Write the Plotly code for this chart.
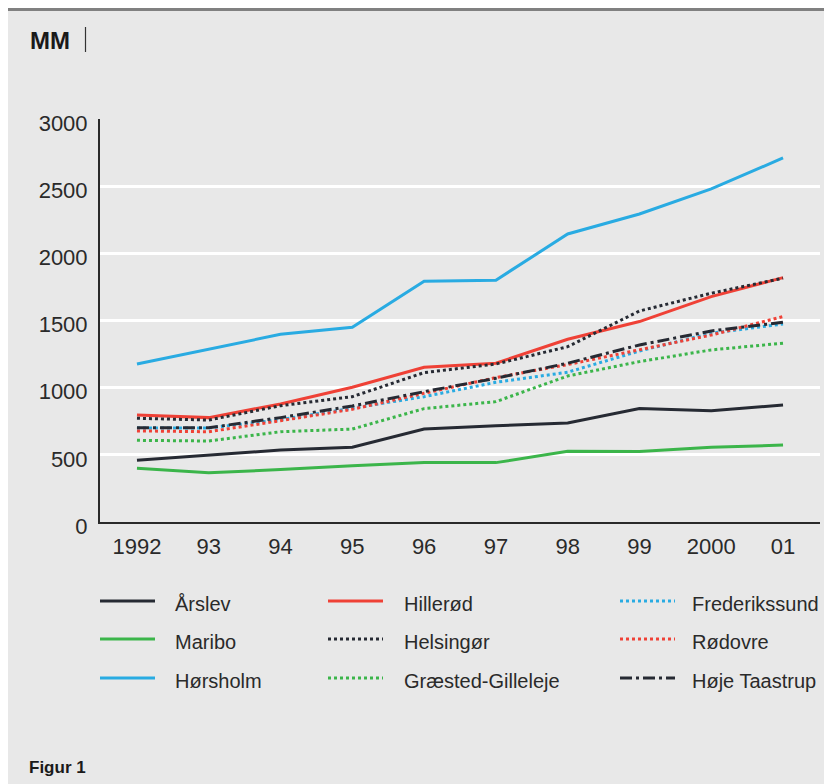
import plotly.graph_objects as go

years = [1992, 1993, 1994, 1995, 1996, 1997, 1998, 1999, 2000, 2001]
tick_labels = ["1992", "93", "94", "95", "96", "97", "98", "99", "2000", "01"]

names = ["Årslev", "Maribo", "Hørsholm", "Hillerød", "Helsingør",
         "Græsted-Gilleleje", "Frederikssund", "Rødovre", "Høje Taastrup"]

arslev = [459, 499, 536, 556, 692, 717, 737, 844, 829, 871]
maribo = [400, 367, 390, 419, 442, 442, 526, 524, 556, 573]
horsholm = [1176, 1285, 1397, 1450, 1792, 1800, 2144, 2293, 2480, 2710]
hillerod = [797, 777, 879, 1003, 1152, 1182, 1360, 1492, 1678, 1819]
helsingor = [772, 759, 866, 933, 1112, 1176, 1305, 1571, 1703, 1815]
graested = [608, 603, 672, 692, 844, 896, 1087, 1194, 1281, 1331]
frederikssund = [700, 700, 762, 850, 933, 1040, 1115, 1273, 1405, 1474]
rodovre = [678, 672, 754, 839, 958, 1075, 1172, 1281, 1392, 1529]
hoje_taastrup = [702, 702, 777, 864, 970, 1070, 1182, 1318, 1422, 1487]

series = [arslev, maribo, horsholm, hillerod, helsingor, graested,
          frederikssund, rodovre, hoje_taastrup]

DARK = "#262a33"
GREEN = "#3bb54a"
BLUE = "#29abe2"
RED = "#ef4136"
colors = [DARK, GREEN, BLUE, RED, DARK, GREEN, BLUE, RED, DARK]
dashes = ["solid", "solid", "solid", "solid", "dot", "dot", "dot", "dot",
          "12px,4px,3px,4px"]

W, H = 832, 784
OFF = 8  # page body margin
L, R, T, B = 100 - OFF, 820 - OFF, 119 - OFF, 522 - OFF


def pxx(x):
    return (x - OFF - L) / (R - L)


def pxy(y):
    return (B - (y - OFF)) / (B - T)


fig = go.Figure()
for name, vals, col, dsh in zip(names, series, colors, dashes):
    fig.add_trace(go.Scatter(
        x=years, y=vals, mode="lines", name=name,
        line=dict(color=col, width=3, dash=dsh),
        showlegend=False,
    ))

BG = "#e8e8e8"
shapes = [
    dict(type="rect", xref="paper", yref="paper", layer="below",
         x0=pxx(0), x1=pxx(850), y0=pxy(10), y1=pxy(800),
         fillcolor=BG, line=dict(width=0)),
    dict(type="rect", xref="paper", yref="paper", layer="below",
         x0=pxx(0), x1=pxx(850), y0=pxy(7), y1=pxy(11),
         fillcolor="#808080", line=dict(width=0)),
    dict(type="line", xref="paper", yref="paper",
         x0=pxx(85.5), x1=pxx(85.5), y0=pxy(27), y1=pxy(52),
         line=dict(color="#333333", width=1.2)),
]

annotations = [
    dict(text="<b>MM</b>", xref="paper", yref="paper", x=pxx(28), y=pxy(40),
         xanchor="left", yanchor="middle", showarrow=False,
         font=dict(family="Liberation Sans, Arial, sans-serif",
                   size=24, color="#1a1a1a")),
    dict(text="<b>Figur 1</b>", xref="paper", yref="paper", x=pxx(27), y=pxy(767),
         xanchor="left", yanchor="middle", showarrow=False,
         font=dict(family="Liberation Sans, Arial, sans-serif",
                   size=17, color="#1a1a1a")),
]

col_line_x = [100, 328, 620]
col_text_x = [173, 402, 690]
row_y = [601, 639, 678]
for i, (name, col, dsh) in enumerate(zip(names, colors, dashes)):
    c, r = divmod(i, 3)
    y = row_y[r]
    shapes.append(dict(type="line", xref="paper", yref="paper",
                       x0=pxx(col_line_x[c]), x1=pxx(col_line_x[c] + 55),
                       y0=pxy(y), y1=pxy(y),
                       line=dict(color=col, width=3, dash=dsh)))
    annotations.append(dict(text=name, xref="paper", yref="paper",
                            x=pxx(col_text_x[c]), y=pxy(y + 3),
                            xanchor="left", yanchor="middle", showarrow=False,
                            font=dict(family="Liberation Sans, Arial, sans-serif",
                                      size=20, color="#2a2a2a")))

fig.update_layout(
    width=W, height=H,
    margin=dict(l=L, r=W - R, t=T, b=H - B, pad=0),
    paper_bgcolor="white",
    plot_bgcolor=BG,
    shapes=shapes,
    annotations=annotations,
    font=dict(family="Liberation Sans, Arial, sans-serif", size=22, color="#2a2a2a"),
    xaxis=dict(
        range=[1991.485, 2001.515], tickvals=years, ticktext=tick_labels,
        showgrid=False, zeroline=False, showline=True, linecolor="#2a2a2a",
        linewidth=2, ticks="", ticklabelstandoff=4,
        tickfont=dict(size=22),
    ),
    yaxis=dict(
        range=[0, 3000], tickvals=[0, 500, 1000, 1500, 2000, 2500, 3000],
        showgrid=True, gridcolor="white", gridwidth=2.5, zeroline=False,
        showline=True, linecolor="#2a2a2a", linewidth=2, ticks="",
        ticklabelstandoff=6, ticklabelshift=4, tickfont=dict(size=22),
    ),
)

fig.write_html("out.html")
